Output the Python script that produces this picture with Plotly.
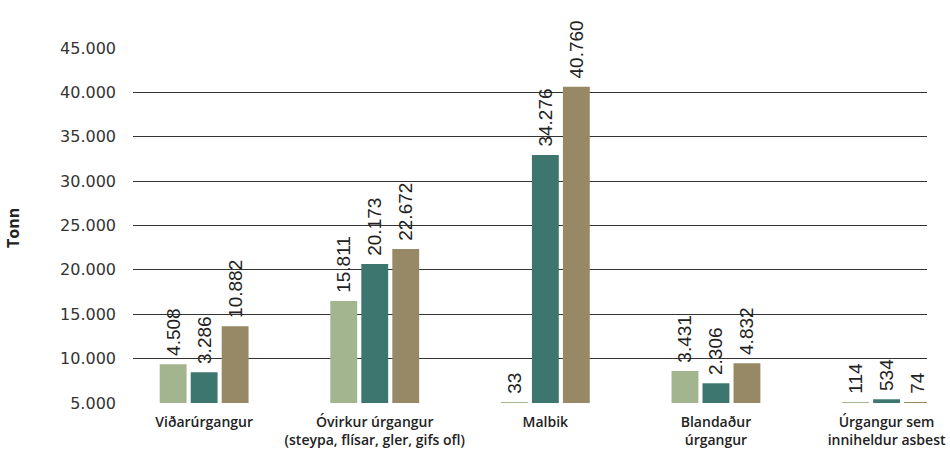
import plotly.graph_objects as go

categories = [
    "Viðarúrgangur",
    "Óvirkur úrgangur<br>(steypa, flísar, gler, gifs ofl)",
    "Malbik",
    "Blandaður<br>úrgangur",
    "Úrgangur sem<br>inniheldur asbest",
]

# Value labels as printed on the chart
labels_a = ["4.508", "15.811", "33", "3.431", "114"]
labels_b = ["3.286", "20.173", "34.276", "2.306", "534"]
labels_c = ["10.882", "22.672", "40.760", "4.832", "74"]

# Bar heights as drawn (tonnes above the axis floor of 5.000)
heights_a = [4370, 11480, 60, 3610, 60]
heights_b = [3465, 15655, 27957, 2223, 420]
heights_c = [8657, 17348, 35632, 4481, 60]

axis_floor = 5000
y_ticks = [5000, 10000, 15000, 20000, 25000, 30000, 35000, 40000, 45000]

colors = ["#a3b58f", "#3d766e", "#978966"]
series = [("A", heights_a, labels_a), ("B", heights_b, labels_b), ("C", heights_c, labels_c)]

fig = go.Figure()
for (name, h, lab), col in zip(series, colors):
    fig.add_trace(go.Bar(
        x=categories, y=h, base=axis_floor, name=name,
        marker=dict(color=col, line=dict(width=0)),
        text=["\u00a0" + t for t in lab], textposition="outside", textangle=-90,
        textfont=dict(family="Liberation Sans, Arial", size=19, color="#222222"),
        constraintext="none", cliponaxis=False, showlegend=False,
    ))

fig.update_layout(
    width=950, height=452,
    margin=dict(l=133, r=23, t=48, b=49),
    paper_bgcolor="white", plot_bgcolor="white",
    barmode="group", bargap=0.455, bargroupgap=0.133,
    separators=",.",
    font=dict(family="DejaVu Sans", color="#333333"),
)
fig.update_xaxes(
    range=[-0.417, 4.237], showgrid=False, showline=False, ticks="",
    tickfont=dict(family="Open Sans", size=14, color="#222222", weight=600),
    ticklabelstandoff=9, automargin=False,
)
fig.update_yaxes(
    range=[5000, 45000], tickvals=y_ticks, tickformat=",.0f",
    showgrid=True, gridcolor="#333333", gridwidth=1, zeroline=False,
    showline=False, ticks="", ticklabelstandoff=16,
    tickfont=dict(family="DejaVu Sans", size=16, color="#333333"),
    automargin=False,
)
fig.add_annotation(
    text="<b>Tonn</b>", xref="paper", yref="paper", x=-0.1511, y=0.493,
    xanchor="center", yanchor="middle", textangle=-90, showarrow=False,
    font=dict(family="Open Sans", size=16, color="#222222"),
)
fig.write_html("out.html", config={"displayModeBar": False},
               post_script="document.body.style.margin='0';")
